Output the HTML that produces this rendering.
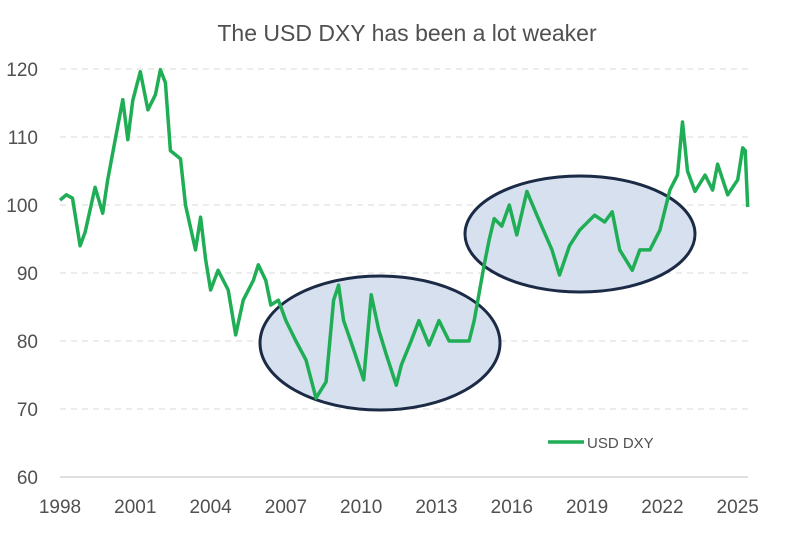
<!DOCTYPE html>
<html><head><meta charset="utf-8"><style>
body{margin:0;background:#fff;}
svg{display:block;font-family:"Liberation Sans",sans-serif;}
</style></head><body>
<svg id="chart" width="789" height="549" viewBox="0 0 789 549">
<text x="407" y="41" text-anchor="middle" font-size="23" fill="#505050">The USD DXY has been a lot weaker</text>
<g id="grid"></g><g id="yticks"></g><g id="xticks"></g>
<ellipse cx="380" cy="343" rx="120" ry="67" fill="#d7e0ee" stroke="#1b2a45" stroke-width="3"/>
<ellipse cx="580" cy="234" rx="115" ry="58" fill="#d7e0ee" stroke="#1b2a45" stroke-width="3"/>
<path id="line" fill="none" stroke="#1fae55" stroke-width="3.5" stroke-linejoin="round"/>
<g>
<line x1="548" y1="442" x2="584" y2="442" stroke="#1fae55" stroke-width="3.5"/>
<text x="587" y="448" font-size="15" fill="#505050">USD DXY</text>
</g>
</svg>
<script>
const yearsX=[1998.0,1998.25,1998.5,1998.8,1999.0,1999.4,1999.7,1999.9,2000.2,2000.5,2000.7,2000.9,2001.2,2001.5,2001.8,2002.0,2002.2,2002.4,2002.6,2002.8,2003.0,2003.4,2003.6,2003.8,2004.0,2004.3,2004.7,2005.0,2005.3,2005.7,2005.9,2006.2,2006.4,2006.7,2007.0,2007.4,2007.8,2008.2,2008.6,2008.9,2009.1,2009.3,2009.7,2010.1,2010.4,2010.7,2011.0,2011.4,2011.6,2012.0,2012.3,2012.7,2013.1,2013.5,2013.9,2014.3,2014.5,2014.9,2015.1,2015.3,2015.6,2015.9,2016.2,2016.6,2017.0,2017.6,2017.9,2018.3,2018.7,2019.3,2019.7,2020.0,2020.3,2020.8,2021.1,2021.5,2021.9,2022.3,2022.6,2022.8,2023.0,2023.3,2023.7,2024.0,2024.2,2024.6,2025.0,2025.2,2025.3,2025.4];
const dxyValues=[100.7,101.5,101,94,96,102.6,98.8,103.7,109.6,115.5,109.6,115.4,119.6,114,116.2,119.9,118,108,107.4,106.8,100,93.4,98.2,92,87.5,90.4,87.5,80.9,86,88.9,91.2,88.9,85.3,86,83,80,77.2,71.6,74,86,88.2,83,78.7,74.3,86.8,81.6,78,73.5,76.5,80.1,83,79.4,83,80,80,80,83,91.2,94.9,98,96.9,100,95.6,102,98.5,93.4,89.7,94,96.3,98.5,97.5,99,93.4,90.4,93.4,93.4,96.3,102.2,104.4,112.2,105,102,104.4,102.2,106,101.5,103.7,108.4,108,99.7];
const yTickLabels=[60,70,80,90,100,110,120];
const xTickLabels=[1998,2001,2004,2007,2010,2013,2016,2019,2022,2025];
const xS=y=>60+(y-1998)*25.1;
const yS=v=>477-(v-60)*6.8;
const NS="http://www.w3.org/2000/svg";
const grid=document.getElementById('grid'),yt=document.getElementById('yticks'),xt=document.getElementById('xticks');
yTickLabels.forEach(v=>{
 if(v>60){const l=document.createElementNS(NS,'line');
 
 
 l.setAttribute('x1',60);l.setAttribute('x2',748);l.setAttribute('y1',yS(v));l.setAttribute('y2',yS(v));
 l.setAttribute('stroke','#d9d9d9');l.setAttribute('stroke-dasharray','6,5');grid.appendChild(l);}
 const t=document.createElementNS(NS,'text');
 
 
 t.setAttribute('x',38);t.setAttribute('y',yS(v)+7);t.setAttribute('text-anchor','end');
 t.setAttribute('font-size','19');t.setAttribute('fill','#505050');t.textContent=v;yt.appendChild(t);
});
const ax=document.createElementNS(NS,'line');


ax.setAttribute('x1',60);ax.setAttribute('x2',748);ax.setAttribute('y1',477);ax.setAttribute('y2',477);ax.setAttribute('stroke','#bfbfbf');xt.appendChild(ax);
xTickLabels.forEach(y=>{
 const t=document.createElementNS(NS,'text');
 
 
 t.setAttribute('x',xS(y));t.setAttribute('y',513);t.setAttribute('text-anchor','middle');
 t.setAttribute('font-size','19');t.setAttribute('fill','#505050');t.textContent=y;xt.appendChild(t);
});
document.getElementById('line').setAttribute('d',yearsX.map((y,i)=>(i?'L':'M')+xS(y).toFixed(1)+','+yS(dxyValues[i]).toFixed(1)).join(''));
</script>
</body></html>
